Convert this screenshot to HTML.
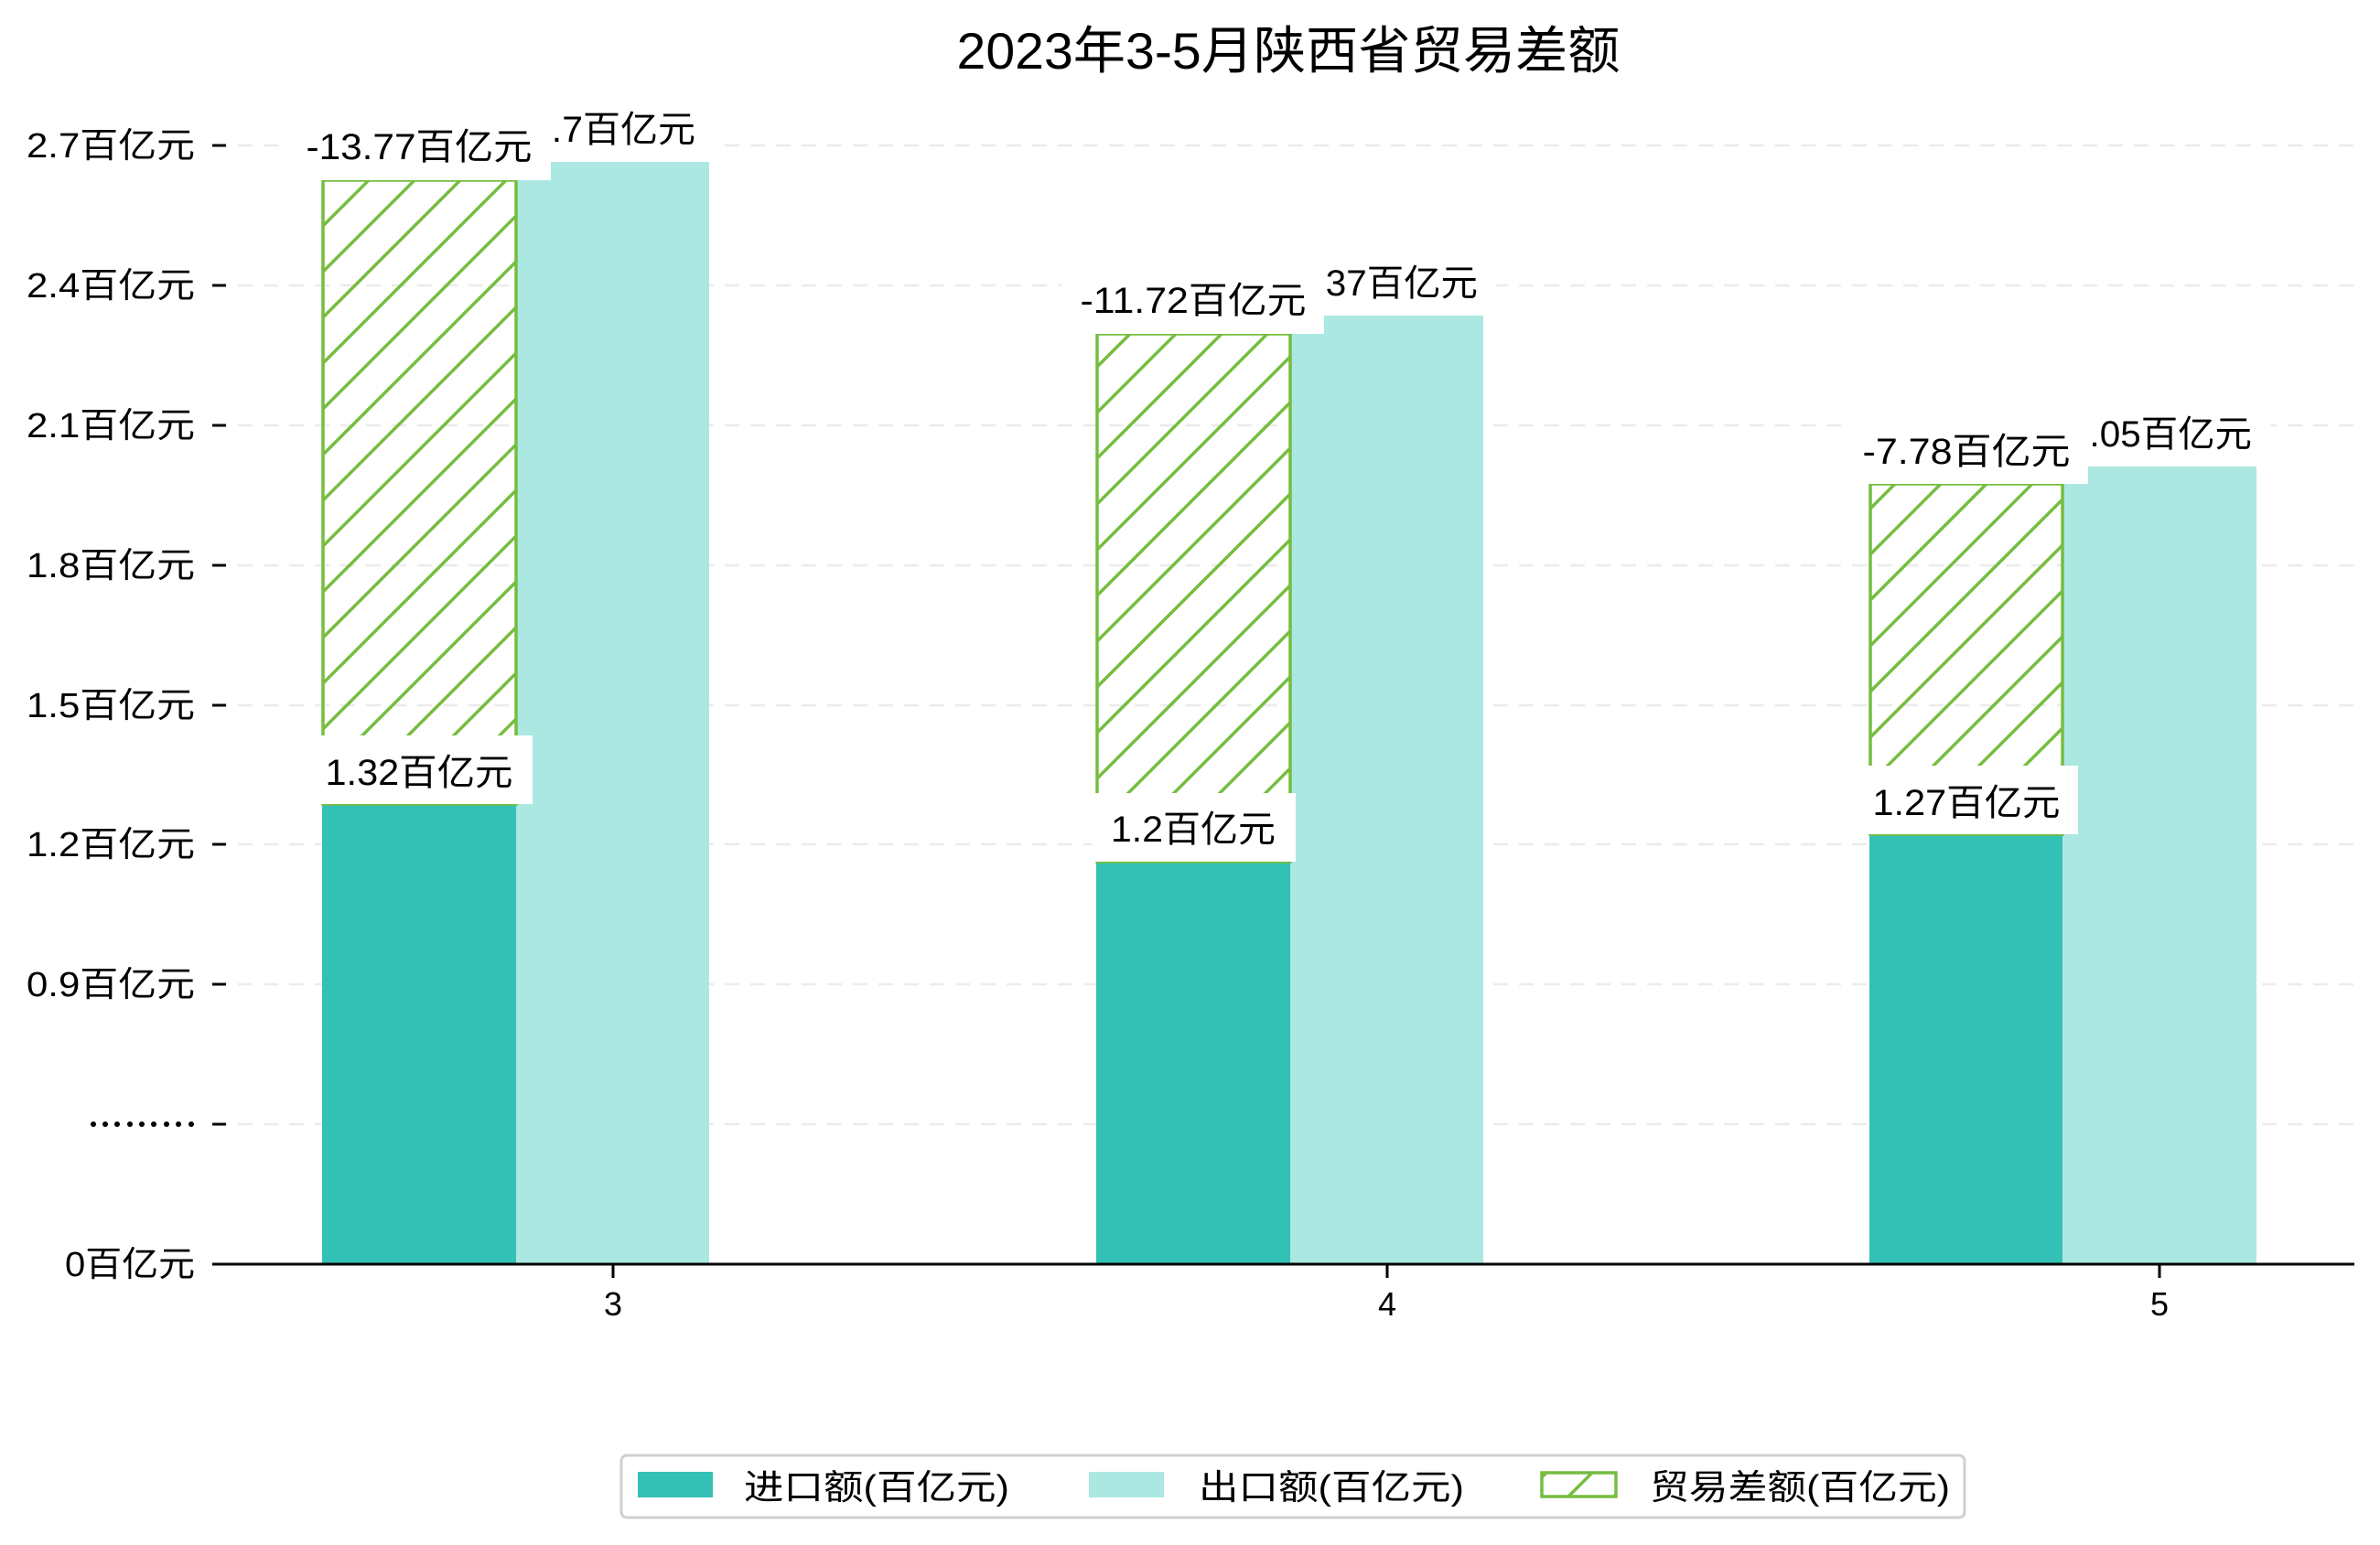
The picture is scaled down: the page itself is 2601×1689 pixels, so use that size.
<!DOCTYPE html>
<html><head><meta charset="utf-8"><style>
html,body{margin:0;padding:0;background:#fff;}
svg{display:block;}
text{font-family:"Liberation Sans","Noto Sans CJK SC",sans-serif;fill:#000;}
</style></head><body>
<svg width="2601" height="1689" viewBox="0 0 2601 1689" xmlns="http://www.w3.org/2000/svg">
<defs>
<pattern id="h" patternUnits="userSpaceOnUse" width="50" height="50">
<line x1="-5" y1="55" x2="55" y2="-5" stroke="#76bd40" stroke-width="3.5"/>
<line x1="-55" y1="55" x2="5" y2="-5" stroke="#76bd40" stroke-width="3.5"/>
<line x1="45" y1="55" x2="105" y2="-5" stroke="#76bd40" stroke-width="3.5"/>
</pattern>
</defs>
<text x="1408" y="75" font-size="56" text-anchor="middle" textLength="725" lengthAdjust="spacingAndGlyphs">2023年3-5月陕西省贸易差额</text>
<g stroke="#ebebeb" stroke-width="2.5" stroke-dasharray="16,12">
<line x1="232" y1="159" x2="2573" y2="159"/><line x1="232" y1="312" x2="2573" y2="312"/>
<line x1="232" y1="465" x2="2573" y2="465"/><line x1="232" y1="618" x2="2573" y2="618"/>
<line x1="232" y1="771" x2="2573" y2="771"/><line x1="232" y1="923" x2="2573" y2="923"/>
<line x1="232" y1="1076" x2="2573" y2="1076"/><line x1="232" y1="1229" x2="2573" y2="1229"/>
</g>
<g stroke="#000" stroke-width="3">
<line x1="232" y1="159" x2="247" y2="159"/><line x1="232" y1="312" x2="247" y2="312"/>
<line x1="232" y1="465" x2="247" y2="465"/><line x1="232" y1="618" x2="247" y2="618"/>
<line x1="232" y1="771" x2="247" y2="771"/><line x1="232" y1="923" x2="247" y2="923"/>
<line x1="232" y1="1076" x2="247" y2="1076"/><line x1="232" y1="1229" x2="247" y2="1229"/>
</g>
<g font-size="38" text-anchor="end">
<text x="213" y="172" textLength="184" lengthAdjust="spacingAndGlyphs">2.7百亿元</text>
<text x="213" y="325" textLength="184" lengthAdjust="spacingAndGlyphs">2.4百亿元</text>
<text x="213" y="478" textLength="184" lengthAdjust="spacingAndGlyphs">2.1百亿元</text>
<text x="213" y="631" textLength="184" lengthAdjust="spacingAndGlyphs">1.8百亿元</text>
<text x="213" y="784" textLength="184" lengthAdjust="spacingAndGlyphs">1.5百亿元</text>
<text x="213" y="936" textLength="184" lengthAdjust="spacingAndGlyphs">1.2百亿元</text>
<text x="213" y="1089" textLength="184" lengthAdjust="spacingAndGlyphs">0.9百亿元</text>
<text x="213" y="1395" textLength="142" lengthAdjust="spacingAndGlyphs">0百亿元</text>
</g>
<g fill="#000"><circle cx="102" cy="1229" r="3"/><circle cx="115" cy="1229" r="3"/><circle cx="128" cy="1229" r="3"/><circle cx="142" cy="1229" r="3"/><circle cx="155" cy="1229" r="3"/><circle cx="168" cy="1229" r="3"/><circle cx="182" cy="1229" r="3"/><circle cx="195" cy="1229" r="3"/><circle cx="209" cy="1229" r="3"/></g>
<rect x="352" y="879" width="212" height="503" fill="#32c1b4"/>
<rect x="1198" y="942" width="212" height="440" fill="#32c1b4"/>
<rect x="2043" y="912" width="211" height="470" fill="#32c1b4"/>
<rect x="564" y="177" width="211" height="1205" fill="#abe8e2"/>
<rect x="1410" y="345" width="211" height="1037" fill="#abe8e2"/>
<rect x="2254" y="510" width="212" height="872" fill="#abe8e2"/>
<g stroke="#76bd40" stroke-width="3.5">
<rect x="353" y="197" width="211" height="682" fill="url(#h)"/>
<rect x="1199" y="365" width="211" height="577" fill="url(#h)"/>
<rect x="2044" y="529" width="210" height="383" fill="url(#h)"/>
</g>
<line x1="232" y1="1382" x2="2573" y2="1382" stroke="#000" stroke-width="3"/>
<g stroke="#000" stroke-width="3"><line x1="670" y1="1382" x2="670" y2="1397"/><line x1="1516" y1="1382" x2="1516" y2="1397"/><line x1="2360" y1="1382" x2="2360" y2="1397"/></g>
<g font-size="36" text-anchor="middle"><text x="670" y="1438">3</text><text x="1516" y="1438">4</text><text x="2360" y="1438">5</text></g>
<g font-size="40" text-anchor="middle">
<rect x="560" y="102" width="220" height="75" fill="#fff"/><text x="670" y="155" textLength="180" lengthAdjust="spacingAndGlyphs">2.7百亿元</text>
<rect x="314" y="122" width="288" height="75" fill="#fff"/><text x="458" y="174" textLength="247" lengthAdjust="spacingAndGlyphs">-13.77百亿元</text>
<rect x="340" y="804" width="242" height="75" fill="#fff"/><text x="458" y="858" textLength="205" lengthAdjust="spacingAndGlyphs">1.32百亿元</text>
<rect x="1395" y="270" width="240" height="75" fill="#fff"/><text x="1515" y="323" textLength="200" lengthAdjust="spacingAndGlyphs">2.37百亿元</text>
<rect x="1160" y="290" width="287" height="75" fill="#fff"/><text x="1304" y="342" textLength="247" lengthAdjust="spacingAndGlyphs">-11.72百亿元</text>
<rect x="1193" y="867" width="223" height="75" fill="#fff"/><text x="1304" y="920" textLength="180" lengthAdjust="spacingAndGlyphs">1.2百亿元</text>
<rect x="2241" y="435" width="240" height="75" fill="#fff"/><text x="2361" y="488" textLength="200" lengthAdjust="spacingAndGlyphs">2.05百亿元</text>
<rect x="2016" y="454" width="266" height="75" fill="#fff"/><text x="2149" y="507" textLength="227" lengthAdjust="spacingAndGlyphs">-7.78百亿元</text>
<rect x="2029" y="837" width="242" height="75" fill="#fff"/><text x="2149" y="891" textLength="205" lengthAdjust="spacingAndGlyphs">1.27百亿元</text>
</g>
<rect x="679" y="1591" width="1468" height="68" rx="6" fill="#fff" stroke="#d0d0d0" stroke-width="3"/>
<rect x="697" y="1609" width="82" height="28" fill="#32c1b4"/>
<rect x="1190" y="1609" width="82" height="28" fill="#abe8e2"/>
<rect x="1685" y="1610" width="81" height="26" fill="url(#h)" stroke="#76bd40" stroke-width="3.5"/>
<g font-size="38">
<text x="813" y="1639" textLength="290" lengthAdjust="spacingAndGlyphs">进口额(百亿元)</text>
<text x="1310" y="1639" textLength="290" lengthAdjust="spacingAndGlyphs">出口额(百亿元)</text>
<text x="1803" y="1639" textLength="328" lengthAdjust="spacingAndGlyphs">贸易差额(百亿元)</text>
</g>
</svg>
</body></html>
